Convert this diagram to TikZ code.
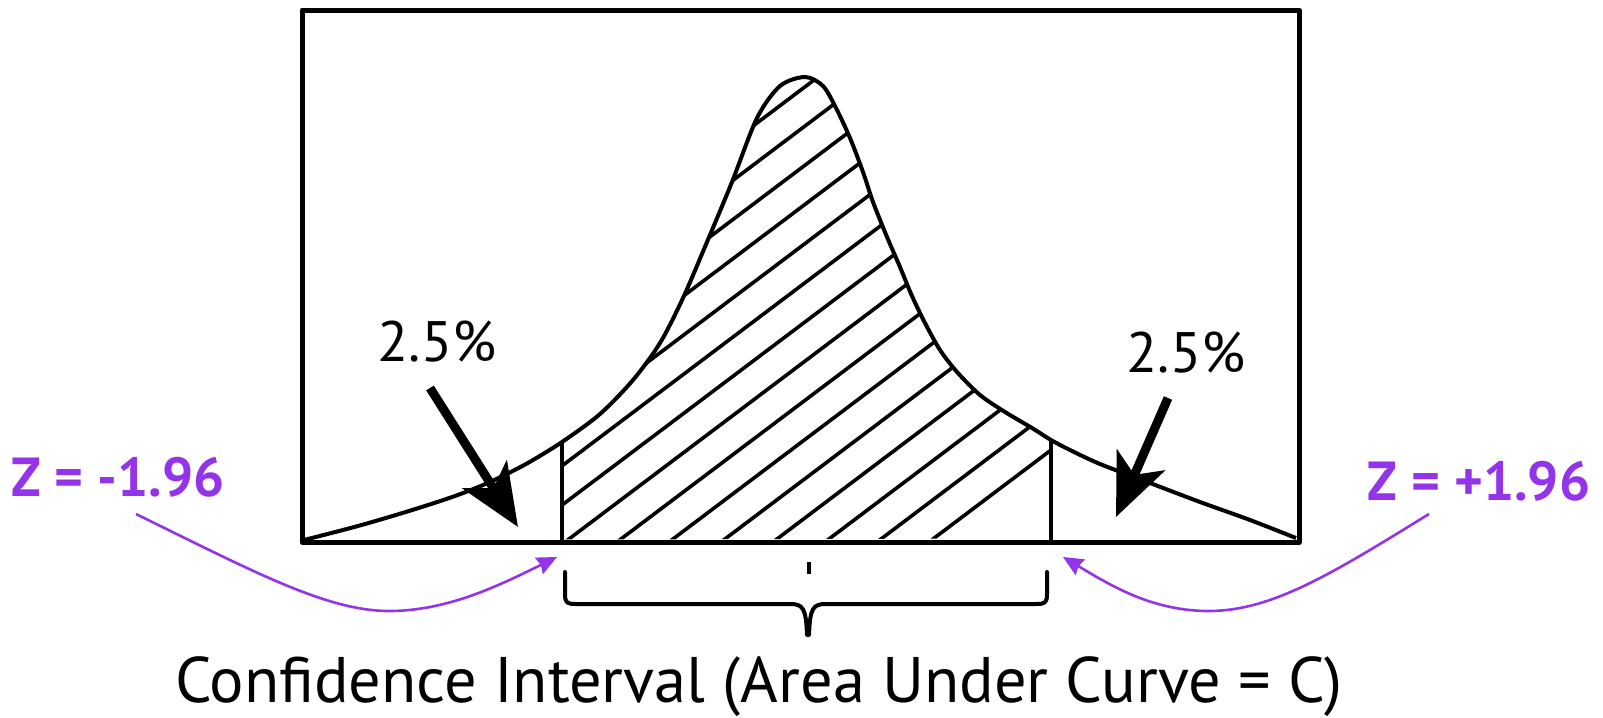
\documentclass[tikz,border=0pt]{standalone}
\usepackage{fontspec}
\setmainfont{PT Sans}
\usetikzlibrary{arrows.meta}
\definecolor{zpurple}{HTML}{9333EA}
\tikzset{
  frame/.style={line width=2.5pt, line join=round},
  curveline/.style={line width=2pt, line join=round},
  hatchline/.style={line width=1.8pt},
  bigarrow/.style={line width=4.5pt, -{Stealth[length=31pt,width=26pt,inset=8pt]}},
  zarrow/.style={draw=zpurple, line width=1.3pt, -{Stealth[length=10pt,width=9pt,inset=1pt]}},
  pct/.style={font=\fontsize{28.5}{32}\selectfont, inner sep=0pt},
  zlabel/.style={font=\fontsize{27.5}{32}\selectfont\bfseries, text=zpurple, inner sep=0pt},
  caption/.style={font=\fontsize{32.2}{38}\selectfont, inner sep=0pt, anchor=base},
  bracketline/.style={line width=2pt, line join=round, line cap=round}
}
\begin{document}
\begin{tikzpicture}[x=0.5pt,y=-0.5pt]
\useasboundingbox (0,0) rectangle (1603,718);
\fill[white] (0,0) rectangle (1603,718);

% curve definition
\def\curvepts{(304,540) (358,526) (409,511) (455,496) (490,482) (526,464) (562,442) (600,414) (633,380) (660,343) (683,298) (707,242) (732,182) (757,118) (780,86) (805,77) (823,86) (836,108) (850,138) (863,172) (873,202) (887,237) (900,267) (912,296) (925,323) (940,350) (957,372) (980,395) (1005,412) (1032,428) (1051,440) (1070,450) (1100,464) (1150,483) (1200,502) (1250,520) (1296,538)}

% hatching
\begin{scope}
  \clip (562,0) rectangle (1051,542);
  \clip plot[smooth, tension=0.5] coordinates {\curvepts} -- cycle;
  \foreach \xo in {201,253,305,357,409,461,513,565,617,669,721,773,825,877,929}
    \draw[hatchline] (\xo,542) -- ++(1000,-753.6);
\end{scope}

% curve
\draw[curveline] plot[smooth, tension=0.5] coordinates {\curvepts};

% cut lines
\coordinate (cl) at (562,442);
\coordinate (clb) at (562,542);
\coordinate (cr) at (1051,440);
\coordinate (crb) at (1051,542);
\draw[curveline] (cl) -- (clb);
\draw[curveline] (cr) -- (crb);

% frame
\draw[frame] (302,10) rectangle (1299,542);

% percentage labels and arrows
\node[pct] (pl) at (437,342) {2.5\%};
\node[pct] (pr) at (1186,353) {2.5\%};
\coordinate (plt) at (430,388);
\coordinate (plh) at (518,527);
\coordinate (prt) at (1168,398);
\coordinate (prh) at (1116,517);
\draw[bigarrow] (plt) -- (plh);
\draw[bigarrow] (prt) -- (prh);

% center tick
\coordinate (tk1) at (809,562);
\coordinate (tk2) at (809,574);
\draw[line width=2pt] (tk1) -- (tk2);

% bracket
\coordinate (bl) at (565,572);
\coordinate (br) at (1047,572);
\coordinate (btip) at (808,635);
\draw[bracketline] (bl) -- (565,594) .. controls (565,603) and (567,604) .. (576,604)
  -- (790,604) .. controls (803,604) and (806,608) .. (807,635)
  -- (809,635) .. controls (810,608) and (813,604) .. (826,604)
  -- (1036,604) .. controls (1045,604) and (1047,603) .. (1047,594) -- (br);

% caption
\node[caption] (cap) at (759,702) {Confidence Interval (Area Under Curve = C)};

% z labels and arrows
\node[zlabel] (zl) at (118,477) {Z = -1.96};
\node[zlabel] (zr) at (1479,481) {Z = +1.96};
\coordinate (zls) at (136,514);
\coordinate (zlt) at (557,557);
\coordinate (zrs) at (1429,514);
\coordinate (zrt) at (1063,557);
\draw[zarrow] (zls) .. controls (260,575) and (330,612) .. (392,611)
  .. controls (450,610) and (500,585) .. (zlt);
\draw[zarrow] (zrs) .. controls (1330,575) and (1270,612) .. (1206,611)
  .. controls (1150,610) and (1110,585) .. (zrt);
\end{tikzpicture}
\end{document}
